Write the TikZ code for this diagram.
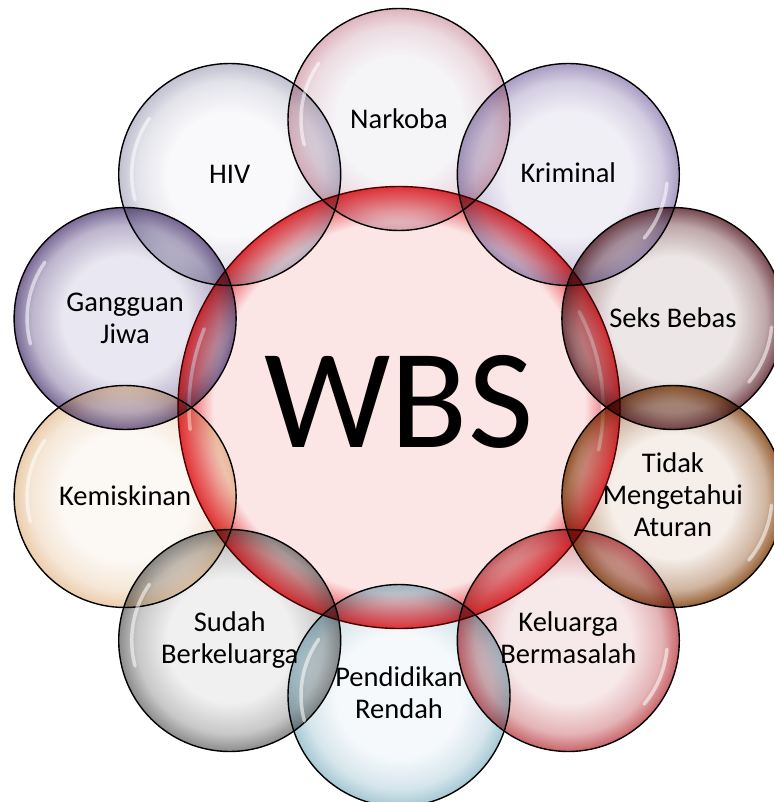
\documentclass[tikz,border=0pt]{standalone}
\usepackage{fontspec}
\setmainfont{Carlito}
\usetikzlibrary{calc}
\colorlet{glassin}{white}
\colorlet{glassout}{gray}
\definecolor{nkIn}{RGB}{245,245,248}\definecolor{nkOut}{RGB}{222,180,190}
\definecolor{krIn}{RGB}{241,239,246}\definecolor{krOut}{RGB}{168,156,195}
\definecolor{sbIn}{RGB}{236,230,230}\definecolor{sbOut}{RGB}{120,72,78}
\definecolor{tdIn}{RGB}{245,238,233}\definecolor{tdOut}{RGB}{150,95,50}
\definecolor{kbIn}{RGB}{247,233,234}\definecolor{kbOut}{RGB}{200,100,105}
\definecolor{prIn}{RGB}{246,249,251}\definecolor{prOut}{RGB}{165,200,212}
\definecolor{sdIn}{RGB}{240,240,240}\definecolor{sdOut}{RGB}{140,140,140}
\definecolor{kmIn}{RGB}{252,249,245}\definecolor{kmOut}{RGB}{236,205,172}
\definecolor{gjIn}{RGB}{233,231,241}\definecolor{gjOut}{RGB}{122,106,150}
\definecolor{hvIn}{RGB}{249,249,251}\definecolor{hvOut}{RGB}{192,192,208}
\definecolor{coIn}{RGB}{252,229,229}\definecolor{coOut}{RGB}{232,52,58}
\pgfdeclareradialshading[glassin,glassout]{glassy}{\pgfpoint{0bp}{0bp}}{color(0bp)=(glassin); color(14bp)=(glassin); color(21bp)=(glassout!40!glassin); color(25bp)=(glassout); color(50bp)=(glassout)}
\pgfdeclareradialshading[glassin,glassout]{glasscore}{\pgfpoint{0bp}{0bp}}{color(0bp)=(glassin); color(21bp)=(glassin); color(23.5bp)=(glassout!65!glassin); color(25bp)=(glassout); color(50bp)=(glassout)}
\tikzset{
  bubble/.style 2 args={circle, inner sep=0pt, minimum size=222pt, draw=black, line width=1.4pt,
    /utils/exec={\colorlet{glassin}{#1}\colorlet{glassout}{#2}}, shading=glassy, blend mode=multiply},
  corebubble/.style 2 args={circle, inner sep=0pt, minimum size=442pt, draw=red!35!black, line width=1.4pt,
    /utils/exec={\colorlet{glassin}{#1}\colorlet{glassout}{#2}}, shading=glasscore},
  lbl/.style={font=\fontsize{28.5}{32}\selectfont, align=center, text=black, inner sep=0pt},
  gleam/.style={draw=white, line width=3.5pt, opacity=0.55, line cap=round}
}
\begin{document}
\begin{tikzpicture}[x=1pt, y=-1pt]
\useasboundingbox (0,0) rectangle (773,802);
% centre
\node[corebubble={coIn}{coOut}] (core) at (399,407.5) {};
\draw[gleam] ($(core.center)+(-158:210)$) arc[start angle=-158, end angle=-186, radius=210];
\draw[gleam] ($(core.center)+(-28:204)$) arc[start angle=-28, end angle=12, radius=204];
% outer bubbles
\node[bubble={nkIn}{nkOut}] (b0) at (399,119.5) {};
\node[bubble={krIn}{krOut}] (b1) at (568.3,174.5) {};
\node[bubble={sbIn}{sbOut}] (b2) at (672.9,318.5) {};
\node[bubble={tdIn}{tdOut}] (b3) at (672.9,496.5) {};
\node[bubble={kbIn}{kbOut}] (b4) at (568.3,640.5) {};
\node[bubble={prIn}{prOut}] (b5) at (399,695.5) {};
\node[bubble={sdIn}{sdOut}] (b6) at (229.7,640.5) {};
\node[bubble={kmIn}{kmOut}] (b7) at (125.1,496.5) {};
\node[bubble={gjIn}{gjOut}] (b8) at (125.1,318.5) {};
\node[bubble={hvIn}{hvOut}] (b9) at (229.7,174.5) {};
% gleams
\foreach \b in {b0,b5,b6,b7,b8,b9}{
  \draw[gleam] ($(\b.center)+(-145:98)$) arc[start angle=-145, end angle=-195, radius=98];
}
\foreach \b in {b1,b2,b3,b4}{
  \draw[gleam] ($(\b.center)+(5:99)$) arc[start angle=5, end angle=40, radius=99];
}
% labels
\node[font=\fontsize{142}{150}\selectfont, inner sep=0pt] (wbs) at (399,401.5) {WBS};
\node[lbl] (t0) at (399,119) {Narkoba};
\node[lbl] (t1) at (568.3,173) {Kriminal};
\node[lbl] (t2) at (672.9,318) {Seks Bebas};
\node[lbl] (t3) at (672.9,495) {Tidak\\Mengetahui\\Aturan};
\node[lbl] (t4) at (568.3,638) {Keluarga\\Bermasalah};
\node[lbl] (t5) at (399,693) {Pendidikan\\Rendah};
\node[lbl] (t6) at (229.7,640.5) {Sudah\\Berkeluarga};
\node[lbl] (t7) at (125.1,496) {Kemiskinan};
\node[lbl] (t8) at (125.1,318.5) {Gangguan\\Jiwa};
\node[lbl] (t9) at (229.7,174.5) {HIV};
\end{tikzpicture}
\end{document}
